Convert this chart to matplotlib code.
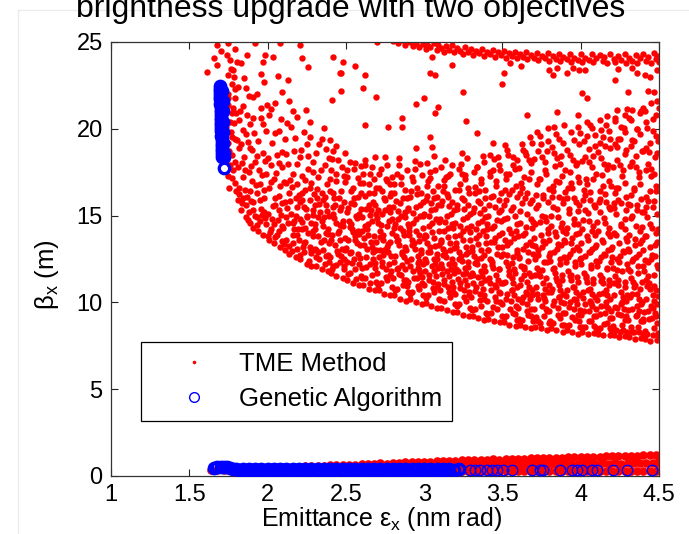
import numpy as np
import matplotlib
matplotlib.use('Agg')
import matplotlib.pyplot as plt
from matplotlib.lines import Line2D

plt.rcParams['font.family'] = ['Liberation Sans', 'DejaVu Sans']
plt.rcParams['mathtext.fontset'] = 'custom'
plt.rcParams['mathtext.rm'] = 'Liberation Sans'
plt.rcParams['mathtext.it'] = 'Liberation Sans:italic'

title = 'brightness upgrade with two objectives'
x_label = r'Emittance ε$_\mathregular{x}$ (nm rad)'
y_label = r'β$_\mathregular{x}$ (m)'
x_ticks = [1, 1.5, 2, 2.5, 3, 3.5, 4, 4.5]
x_tick_labels = ['1', '1.5', '2', '2.5', '3', '3.5', '4', '4.5']
y_ticks = [0, 5, 10, 15, 20, 25]
y_tick_labels = ['0', '5', '10', '15', '20', '25']
series_names = ['TME Method', 'Genetic Algorithm']

# ---- TME Method: left arm of the cloud (emittance, beta_x) ----
tme_arm = [(1.61,23.3),(1.675,24.83),(1.66,24.1),(1.68,23.7),(1.70,24.5),(1.749,24.92),(1.739,24.25),(1.76,23.96),(1.803,23.87),(1.781,23.39),
(1.745,23.1),(1.75,21.8),(1.76,20.4),(1.745,19.2),(1.77,18.5),(1.78,17.6),(1.79,16.9),(1.77,22.6),(1.765,19.8),(1.78,21.2),(1.79,18.1),(1.745,22.0),(1.785,23.0),(1.80,20.9),(1.79,19.4),(1.76,17.9),(1.80,16.4),(1.79,22.3),(1.755,18.7),(1.77,20.9),
(1.81,15.9),(1.83,15.3),(1.86,14.9),(1.89,14.6),(1.82,16.6),(1.84,17.2),(1.87,16.1),(1.81,17.8),(1.85,18.4),(1.88,17.5),(1.83,19.1),(1.86,19.7),(1.89,18.9),(1.82,20.5),(1.84,21.3),(1.87,20.8),(1.81,22.4),(1.85,22.9),(1.88,21.9),(1.83,23.8),(1.866,24.25),(1.86,15.6),(1.89,16.4),(1.84,16.0),(1.82,18.9),(1.88,15.2),
(1.91,14.3),(1.94,14.1),(1.97,13.9),(1.92,15.0),(1.95,14.7),(1.99,14.5),(1.91,15.8),(1.96,15.4),(1.93,16.3),(1.98,16.0),(1.90,17.0),(1.95,16.8),(1.99,17.4),(1.92,18.1),(1.97,18.6),(1.94,19.3),(1.99,19.9),(1.91,20.6),(1.96,21.2),(1.93,22.0),(1.98,22.7),(1.92,24.92),(1.983,24.25),(1.973,23.87),(1.95,15.9),(1.90,18.8),(1.97,20.3),(1.93,14.9),(1.98,15.2),
(2.01,13.6),(2.04,13.4),(2.08,13.2),(2.02,14.2),(2.06,13.9),(2.09,14.4),(2.00,15.1),(2.03,14.8),(2.07,15.3),(2.05,16.0),(2.09,15.7),(2.01,16.6),(2.04,17.1),(2.08,16.7),(2.02,17.9),(2.06,18.5),(2.09,17.8),(2.03,19.2),(2.07,19.9),(2.01,20.8),(2.05,21.5),(2.09,22.1),(2.036,24.15),(2.079,24.92),(2.04,14.5),(2.07,14.1),(2.00,18.3),(2.05,15.6),
(2.11,13.0),(2.14,12.8),(2.18,12.6),(2.12,13.6),(2.16,13.4),(2.19,13.9),(2.10,14.3),(2.13,14.6),(2.17,14.2),(2.15,15.1),(2.19,15.5),(2.11,15.8),(2.14,16.3),(2.18,16.0),(2.12,16.9),(2.16,17.4),(2.19,16.8),(2.13,18.0),(2.17,18.7),(2.11,19.4),(2.15,20.1),(2.19,20.7),(2.14,21.6),(2.18,15.0),(2.12,14.9),(2.16,13.9),(2.207,24.83),(2.218,24.06),(2.13,22.8),(2.17,14.7),
(1.745,17.3),(1.755,16.6),(1.77,19.55),(1.785,20.35),(1.75,21.35),(1.795,21.75),(1.765,23.45),(1.735,20.1),(1.775,17.15),(1.79,24.6),
(1.815,16.25),(1.835,18.05),(1.855,17.65),(1.875,19.25),(1.895,15.85),(1.825,21.05),(1.845,19.95),(1.865,22.35),(1.885,20.25),(1.805,19.35),(1.855,16.45),(1.875,14.75),(1.835,15.75),(1.895,17.85),
(1.905,15.35),(1.925,16.75),(1.945,17.65),(1.965,15.05),(1.985,18.15),(1.915,19.75),(1.935,18.45),(1.955,20.65),(1.975,16.45),(1.995,21.35),(1.935,14.45),(1.965,17.35),(1.985,14.85),(1.905,21.85),(1.955,23.15),
(2.015,14.05),(2.035,15.55),(2.055,17.45),(2.075,16.15),(2.095,18.65),(2.025,16.95),(2.045,19.75),(2.065,14.75),(2.085,20.55),(2.005,13.85),(2.045,13.75),(2.075,18.05),(2.095,13.55),(2.025,21.15),(2.065,23.05),(2.085,15.05),
(2.105,13.35),(2.125,15.45),(2.145,17.05),(2.165,14.55),(2.185,17.95),(2.115,18.55),(2.135,13.25),(2.155,16.65),(2.175,19.45),(2.195,14.25),(2.145,15.85),(2.105,16.95),(2.185,13.05),(2.165,21.05),(2.125,20.35),(2.155,12.95)]

# ---- TME Method: main body of the cloud ----
tme_core = [
(2.21,12.5),(2.25,12.2),(2.28,12.1),(2.23,12.9),(2.27,13.2),(2.20,13.6),(2.24,13.5),(2.29,13.8),(2.22,14.2),(2.26,14.0),(2.28,14.6),(2.21,14.8),(2.25,15.0),(2.23,15.5),(2.29,15.3),(2.27,15.9),(2.20,16.2),(2.24,16.5),(2.28,16.9),(2.22,17.3),(2.26,17.7),(2.21,18.4),(2.29,18.1),(2.25,19.1),(2.23,19.8),(2.27,20.4),(2.26,23.58),(2.24,14.3),(2.28,13.0),(2.22,15.9),
(2.31,12.1),(2.345,11.9),(2.385,11.8),(2.33,12.5),(2.37,12.7),(2.30,13.1),(2.355,13.0),(2.39,13.4),(2.32,13.8),(2.36,13.6),(2.385,14.2),(2.305,14.5),(2.345,14.7),(2.335,15.2),(2.395,15.0),(2.37,15.6),(2.315,16.0),(2.35,16.3),(2.38,16.8),(2.325,17.2),(2.365,17.9),(2.31,18.6),(2.395,18.3),(2.35,19.4),(2.375,14.0),(2.32,12.9),(2.36,14.9),(2.30,15.6),(2.39,12.3),
(2.405,11.7),(2.44,11.5),(2.48,11.4),(2.42,12.1),(2.465,12.3),(2.49,11.9),(2.40,12.6),(2.45,12.8),(2.43,13.3),(2.475,13.1),(2.495,13.7),(2.41,13.9),(2.455,14.1),(2.435,14.6),(2.48,14.4),(2.415,15.1),(2.46,15.3),(2.49,15.8),(2.425,16.0),(2.47,16.4),(2.44,17.0),(2.405,17.6),(2.485,17.3),(2.45,18.2),(2.42,18.7),(2.48,23.85),(2.47,23.2),(2.47,22.2),(2.41,21.66),(2.42,24.15),(2.46,23.2),(2.40,19.35),(2.44,19.0),(2.465,13.6),(2.43,15.6),(2.49,12.5),
(2.51,11.3),(2.545,11.1),(2.585,11.0),(2.525,11.7),(2.56,11.9),(2.595,11.5),(2.505,12.3),(2.55,12.5),(2.53,12.9),(2.575,12.8),(2.59,13.3),(2.515,13.6),(2.56,13.8),(2.54,14.2),(2.58,14.1),(2.52,14.7),(2.565,15.0),(2.595,15.4),(2.53,15.7),(2.575,16.1),(2.545,16.6),(2.51,17.2),(2.59,16.9),(2.555,17.7),(2.525,18.1),(2.56,23.6),(2.57,13.4),(2.505,15.2),(2.585,12.2),(2.535,14.5),(2.55,16.0),
(2.61,11.0),(2.645,10.8),(2.685,10.7),(2.625,11.4),(2.665,11.6),(2.695,11.2),(2.60,12.0),(2.655,12.2),(2.63,12.6),(2.675,12.5),(2.69,13.0),(2.615,13.3),(2.66,13.5),(2.64,13.9),(2.68,13.8),(2.62,14.4),(2.665,14.7),(2.695,15.1),(2.63,15.4),(2.675,15.8),(2.645,16.3),(2.61,16.9),(2.69,16.6),(2.655,17.4),(2.625,17.9),(2.62,23.1),(2.61,22.35),(2.69,21.85),(2.62,20.2),(2.67,13.2),(2.605,14.9),(2.685,12.0),(2.635,14.2),(2.65,15.6),(2.68,17.1),
(2.71,10.7),(2.745,10.5),(2.785,10.4),(2.725,11.1),(2.765,11.3),(2.795,10.9),(2.70,11.7),(2.755,11.9),(2.73,12.3),(2.775,12.2),(2.79,12.7),(2.715,13.0),(2.76,13.2),(2.74,13.6),(2.78,13.5),(2.72,14.1),(2.765,14.4),(2.795,14.8),(2.73,15.1),(2.775,15.5),(2.745,16.0),(2.71,16.6),(2.79,16.3),(2.755,17.1),(2.725,17.7),(2.77,20.1),(2.70,25.0),(2.77,12.9),(2.705,14.6),(2.785,11.6),(2.735,13.9),(2.75,15.3),(2.78,16.8),(2.76,17.9),
(2.81,10.4),(2.845,10.2),(2.885,10.1),(2.825,10.8),(2.865,11.0),(2.895,10.6),(2.80,11.4),(2.855,11.6),(2.83,12.0),(2.875,11.9),(2.89,12.4),(2.815,12.7),(2.86,12.9),(2.84,13.3),(2.88,13.2),(2.82,13.8),(2.865,14.1),(2.895,14.5),(2.83,14.8),(2.875,15.2),(2.845,15.7),(2.81,16.3),(2.89,16.0),(2.855,16.8),(2.825,17.4),(2.86,20.6),(2.86,20.1),(2.87,12.6),(2.805,14.3),(2.885,11.3),(2.835,13.6),(2.85,15.0),(2.88,16.5),(2.84,17.9),(2.80,15.5),
(2.91,10.2),(2.945,10.0),(2.985,9.9),(2.925,10.6),(2.965,10.8),(2.995,10.4),(2.90,11.2),(2.955,11.4),(2.93,11.8),(2.975,11.7),(2.99,12.2),(2.915,12.5),(2.96,12.7),(2.94,13.1),(2.98,13.0),(2.92,13.6),(2.965,13.9),(2.995,14.3),(2.93,14.6),(2.975,15.0),(2.945,15.5),(2.91,16.1),(2.99,15.8),(2.955,16.6),(2.925,17.2),(2.95,21.4),(2.95,18.9),(2.97,12.4),(2.905,14.1),(2.985,11.1),(2.935,13.4),(2.95,14.8),(2.98,16.3),(2.94,17.7),(2.90,15.3),(2.96,12.0),
(3.01,9.95),(3.045,9.8),(3.085,9.7),(3.025,10.4),(3.065,10.6),(3.095,10.2),(3.00,11.0),(3.055,11.2),(3.03,11.6),(3.075,11.5),(3.09,12.0),(3.015,12.3),(3.06,12.5),(3.04,12.9),(3.08,12.8),(3.02,13.4),(3.065,13.7),(3.095,14.1),(3.03,14.4),(3.075,14.8),(3.045,15.3),(3.01,15.9),(3.09,15.6),(3.055,16.4),(3.025,17.0),(3.00,21.75),(3.04,23.2),(3.07,23.1),(3.05,24.15),(3.09,21.25),(3.07,20.9),(3.04,19.5),(3.05,18.95),(3.07,12.2),(3.005,13.9),(3.085,10.9),(3.035,13.2),(3.05,14.6),(3.08,16.1),(3.04,17.5),(3.00,15.1),(3.06,11.8),(3.02,16.7),
(3.11,9.7),(3.145,9.55),(3.185,9.45),(3.125,10.1),(3.165,10.3),(3.195,9.9),(3.10,10.7),(3.155,10.9),(3.13,11.3),(3.175,11.2),(3.19,11.7),(3.115,12.0),(3.16,12.2),(3.14,12.6),(3.18,12.5),(3.12,13.1),(3.165,13.4),(3.195,13.8),(3.13,14.1),(3.175,14.5),(3.145,15.0),(3.11,15.6),(3.19,15.3),(3.155,16.1),(3.125,16.7),(3.18,23.7),(3.15,17.3),(3.11,17.8),(3.17,11.9),(3.105,13.6),(3.185,10.6),(3.135,12.9),(3.15,14.3),(3.18,15.8),(3.14,17.2),(3.10,14.8),(3.16,11.5),(3.12,16.4),
(3.21,9.45),(3.245,9.3),(3.285,9.2),(3.225,9.9),(3.265,10.1),(3.295,9.7),(3.20,10.5),(3.255,10.7),(3.23,11.1),(3.275,11.0),(3.29,11.5),(3.215,11.8),(3.26,12.0),(3.24,12.4),(3.28,12.3),(3.22,12.9),(3.265,13.2),(3.295,13.6),(3.23,13.9),(3.275,14.3),(3.245,14.8),(3.21,15.4),(3.29,15.1),(3.255,15.9),(3.225,16.5),(3.25,22.1),(3.27,20.45),(3.24,18.6),(3.26,17.1),(3.22,17.7),(3.28,16.6),(3.27,11.7),(3.205,13.4),(3.285,10.4),(3.235,12.7),(3.25,14.1),(3.28,15.6),(3.24,17.4),(3.20,14.6),(3.26,11.3),
(3.31,9.2),(3.345,9.1),(3.385,9.0),(3.325,9.6),(3.365,9.8),(3.395,9.4),(3.30,10.3),(3.355,10.5),(3.33,10.9),(3.375,10.8),(3.39,11.3),(3.315,11.6),(3.36,11.8),(3.34,12.2),(3.38,12.1),(3.32,12.7),(3.365,13.0),(3.395,13.4),(3.33,13.7),(3.375,14.1),(3.345,14.6),(3.31,15.2),(3.39,14.9),(3.355,15.7),(3.325,16.3),(3.34,19.75),(3.36,16.9),(3.32,17.5),(3.38,18.1),(3.37,11.5),(3.305,13.2),(3.385,10.2),(3.335,12.5),(3.35,13.9),(3.38,15.4),(3.34,17.8),(3.30,14.4),(3.36,11.1),(3.39,16.5),
(3.41,9.05),(3.445,8.9),(3.485,8.85),(3.425,9.4),(3.465,9.6),(3.495,9.2),(3.40,10.1),(3.455,10.3),(3.43,10.7),(3.475,10.6),(3.49,11.1),(3.415,11.4),(3.46,11.6),(3.44,12.0),(3.48,11.9),(3.42,12.5),(3.465,12.8),(3.495,13.2),(3.43,13.5),(3.475,13.9),(3.445,14.4),(3.41,15.0),(3.49,14.7),(3.455,15.5),(3.425,16.1),(3.44,19.2),(3.46,16.7),(3.42,17.3),(3.48,17.9),(3.47,18.4),(3.47,11.3),(3.405,13.0),(3.485,10.0),(3.435,12.3),(3.45,13.7),(3.48,15.2),(3.44,17.6),(3.40,14.2),(3.46,10.9),(3.49,16.3),(3.42,18.5),
(3.51,8.85),(3.545,8.7),(3.585,8.65),(3.525,9.2),(3.565,9.4),(3.595,9.0),(3.50,9.9),(3.555,10.1),(3.53,10.5),(3.575,10.4),(3.59,10.9),(3.515,11.2),(3.56,11.4),(3.54,11.8),(3.58,11.7),(3.52,12.3),(3.565,12.6),(3.595,13.0),(3.53,13.3),(3.575,13.7),(3.545,14.2),(3.51,14.8),(3.59,14.5),(3.555,15.3),(3.525,15.9),(3.50,22.6),(3.51,23.2),(3.55,23.8),(3.56,16.5),(3.52,17.1),(3.58,17.7),(3.57,18.4),(3.53,18.8),(3.57,11.1),(3.505,12.8),(3.585,9.8),(3.535,12.1),(3.55,13.5),(3.58,15.0),(3.54,17.4),(3.50,14.0),(3.56,10.7),(3.59,16.1),(3.515,16.5),
(3.61,8.7),(3.645,8.6),(3.685,8.5),(3.625,9.0),(3.665,9.3),(3.695,8.9),(3.60,9.7),(3.655,9.9),(3.63,10.3),(3.675,10.2),(3.69,10.7),(3.615,11.0),(3.66,11.2),(3.64,11.6),(3.68,11.5),(3.62,12.1),(3.665,12.4),(3.695,12.8),(3.63,13.1),(3.675,13.5),(3.645,14.0),(3.61,14.6),(3.69,14.3),(3.655,15.1),(3.625,15.7),(3.62,23.6),(3.66,20.8),(3.66,16.3),(3.62,16.9),(3.68,17.5),(3.67,18.2),(3.63,18.8),(3.69,19.2),(3.67,10.9),(3.605,12.6),(3.685,9.6),(3.635,11.9),(3.65,13.3),(3.68,14.8),(3.64,17.2),(3.60,13.8),(3.66,10.5),(3.69,15.9),(3.615,16.3),(3.65,18.5),
(3.71,8.6),(3.745,8.5),(3.785,8.4),(3.725,8.9),(3.765,9.2),(3.795,8.8),(3.70,9.6),(3.755,9.8),(3.73,10.2),(3.775,10.1),(3.79,10.6),(3.715,10.9),(3.76,11.1),(3.74,11.5),(3.78,11.4),(3.72,12.0),(3.765,12.3),(3.795,12.7),(3.73,13.0),(3.775,13.4),(3.745,13.9),(3.71,14.5),(3.79,14.2),(3.755,15.0),(3.725,15.6),(3.76,16.2),(3.72,16.8),(3.78,17.4),(3.77,18.1),(3.73,18.7),(3.79,19.3),(3.74,19.6),(3.77,10.8),(3.705,12.5),(3.785,9.5),(3.735,11.8),(3.75,13.2),(3.78,14.7),(3.74,17.1),(3.70,13.7),(3.76,10.4),(3.79,15.8),(3.715,16.2),(3.75,18.4),
(3.81,8.5),(3.845,8.4),(3.885,8.3),(3.825,8.8),(3.865,9.1),(3.895,8.7),(3.80,9.5),(3.855,9.7),(3.83,10.1),(3.875,10.0),(3.89,10.5),(3.815,10.8),(3.86,11.0),(3.84,11.4),(3.88,11.3),(3.82,11.9),(3.865,12.2),(3.895,12.6),(3.83,12.9),(3.875,13.3),(3.845,13.8),(3.81,14.4),(3.89,14.1),(3.855,14.9),(3.825,15.5),(3.80,23.4),(3.82,23.1),(3.85,23.5),(3.85,20.95),(3.83,20.1),(3.86,16.1),(3.82,16.7),(3.88,17.3),(3.87,18.0),(3.83,18.6),(3.89,19.2),(3.84,19.7),(3.87,10.7),(3.805,12.4),(3.885,9.4),(3.835,11.7),(3.85,13.1),(3.88,14.6),(3.84,17.0),(3.80,13.6),(3.86,10.3),(3.89,15.7),(3.815,16.1),(3.85,18.3),
(3.91,8.4),(3.945,8.3),(3.985,8.2),(3.925,8.7),(3.965,9.0),(3.995,8.6),(3.90,9.4),(3.955,9.6),(3.93,10.0),(3.975,9.9),(3.99,10.4),(3.915,10.7),(3.96,10.9),(3.94,11.3),(3.98,11.2),(3.92,11.8),(3.965,12.1),(3.995,12.5),(3.93,12.8),(3.975,13.2),(3.945,13.7),(3.91,14.3),(3.99,14.0),(3.955,14.8),(3.925,15.4),(3.91,23.2),(3.95,23.5),(3.99,23.4),(3.98,20.8),(3.98,20.1),(3.96,16.0),(3.92,16.6),(3.98,17.2),(3.97,17.9),(3.93,18.5),(3.99,19.1),(3.94,19.8),(3.97,10.6),(3.905,12.3),(3.985,9.3),(3.935,11.6),(3.95,13.0),(3.98,14.5),(3.94,16.9),(3.90,13.5),(3.96,10.2),(3.99,15.6),(3.915,16.0),(3.95,18.2),
(4.01,8.3),(4.045,8.2),(4.085,8.25),(4.025,8.6),(4.065,8.9),(4.095,8.5),(4.00,9.3),(4.055,9.5),(4.03,9.9),(4.075,9.8),(4.09,10.3),(4.015,10.6),(4.06,10.8),(4.04,11.2),(4.08,11.1),(4.02,11.7),(4.065,12.0),(4.095,12.4),(4.03,12.7),(4.075,13.1),(4.045,13.6),(4.01,14.2),(4.09,13.9),(4.055,14.7),(4.025,15.3),(4.03,23.4),(4.01,22.05),(4.04,21.8),(4.06,15.9),(4.02,16.5),(4.08,17.1),(4.07,17.8),(4.03,18.4),(4.09,19.0),(4.04,19.6),(4.06,20.2),(4.07,10.5),(4.005,12.2),(4.085,9.2),(4.035,11.5),(4.05,12.9),(4.08,14.4),(4.04,16.8),(4.00,13.4),(4.06,10.1),(4.09,15.5),(4.015,15.9),(4.05,18.1),(4.02,19.3),
(4.11,8.2),(4.145,8.1),(4.185,8.15),(4.125,8.5),(4.165,8.8),(4.195,8.4),(4.10,9.2),(4.155,9.4),(4.13,9.8),(4.175,9.7),(4.19,10.2),(4.115,10.5),(4.16,10.7),(4.14,11.1),(4.18,11.0),(4.12,11.6),(4.165,11.9),(4.195,12.3),(4.13,12.6),(4.175,13.0),(4.145,13.5),(4.11,14.1),(4.19,13.8),(4.155,14.6),(4.125,15.2),(4.16,15.8),(4.12,16.4),(4.18,17.0),(4.17,17.7),(4.13,18.3),(4.19,18.9),(4.14,19.5),(4.16,20.2),(4.12,20.5),(4.17,10.4),(4.105,12.1),(4.185,9.1),(4.135,11.4),(4.15,12.8),(4.18,14.3),(4.14,16.7),(4.10,13.3),(4.16,10.0),(4.19,15.4),(4.115,15.8),(4.15,18.0),(4.12,19.2),(4.18,19.9),
(4.21,8.1),(4.245,8.0),(4.285,8.05),(4.225,8.4),(4.265,8.7),(4.295,8.3),(4.20,9.1),(4.255,9.3),(4.23,9.7),(4.275,9.6),(4.29,10.1),(4.215,10.4),(4.26,10.6),(4.24,11.0),(4.28,10.9),(4.22,11.5),(4.265,11.8),(4.295,12.2),(4.23,12.5),(4.275,12.9),(4.245,13.4),(4.21,14.0),(4.29,13.7),(4.255,14.5),(4.225,15.1),(4.22,22.8),(4.24,23.45),(4.23,21.1),(4.26,15.7),(4.22,16.3),(4.28,16.9),(4.27,17.6),(4.23,18.2),(4.29,18.8),(4.24,19.4),(4.26,20.1),(4.22,20.6),(4.28,20.8),(4.27,10.3),(4.205,12.0),(4.285,9.0),(4.235,11.3),(4.25,12.7),(4.28,14.2),(4.24,16.6),(4.20,13.2),(4.26,9.9),(4.29,15.3),(4.215,15.7),(4.25,17.9),(4.22,19.1),(4.28,19.8),
(4.31,8.0),(4.345,7.9),(4.385,7.95),(4.325,8.3),(4.365,8.6),(4.395,8.2),(4.30,9.0),(4.355,9.2),(4.33,9.6),(4.375,9.5),(4.39,10.0),(4.315,10.3),(4.36,10.5),(4.34,10.9),(4.38,10.8),(4.32,11.4),(4.365,11.7),(4.395,12.1),(4.33,12.4),(4.375,12.8),(4.345,13.3),(4.31,13.9),(4.39,13.6),(4.355,14.4),(4.325,15.0),(4.33,23.5),(4.30,22.1),(4.36,23.2),(4.33,21.1),(4.36,15.6),(4.32,16.2),(4.38,16.8),(4.37,17.5),(4.33,18.1),(4.39,18.7),(4.34,19.3),(4.36,20.0),(4.32,20.5),(4.38,20.9),(4.37,10.2),(4.305,11.9),(4.385,8.9),(4.335,11.2),(4.35,12.6),(4.38,14.1),(4.34,16.5),(4.30,13.1),(4.36,9.8),(4.39,15.2),(4.315,15.6),(4.35,17.8),(4.32,19.0),(4.38,19.7),
(4.41,7.9),(4.445,7.8),(4.485,7.85),(4.425,8.2),(4.465,8.5),(4.495,8.1),(4.40,8.9),(4.455,9.1),(4.43,9.5),(4.475,9.4),(4.49,9.9),(4.415,10.2),(4.46,10.4),(4.44,10.8),(4.48,10.7),(4.42,11.3),(4.465,11.6),(4.495,12.0),(4.43,12.3),(4.475,12.7),(4.445,13.2),(4.41,13.8),(4.49,13.5),(4.455,14.3),(4.425,14.9),(4.41,23.1),(4.43,22.2),(4.44,23.0),(4.49,23.4),(4.47,22.1),(4.40,21.2),(4.45,21.5),(4.46,15.5),(4.42,16.1),(4.48,16.7),(4.47,17.4),(4.43,18.0),(4.49,18.6),(4.44,19.2),(4.46,19.9),(4.42,20.4),(4.48,20.8),(4.49,21.6),(4.47,10.1),(4.405,11.8),(4.485,8.8),(4.435,11.1),(4.45,12.5),(4.48,14.0),(4.44,16.4),(4.40,13.0),(4.46,9.7),(4.49,15.1),(4.415,15.5),(4.45,17.7),(4.42,18.9),(4.48,19.6)]

# ---- TME Method: further points filling the body of the cloud ----
tme_fill = [
(2.208,12.72),(2.262,12.38),(2.231,13.41),(2.287,14.12),(2.219,14.63),(2.248,15.37),(2.293,15.02),(2.204,15.81),(2.271,16.58),(2.236,17.04),(2.289,17.49),(2.212,18.77),(2.258,18.42),(2.243,21.1),(2.226,13.18),(2.279,12.84),(2.252,14.91),(2.297,16.22),(2.217,16.31),(2.268,19.55),
(2.311,12.61),(2.367,12.24),(2.342,13.47),(2.389,13.92),(2.303,14.21),(2.356,14.38),(2.327,15.64),(2.381,15.29),(2.318,16.52),(2.364,16.07),(2.396,17.11),(2.339,17.63),(2.307,13.02),(2.374,18.83),(2.329,19.12),(2.385,12.71),(2.351,15.91),(2.322,14.93),(2.399,16.41),(2.361,20.05),
(2.413,11.91),(2.468,12.66),(2.439,12.18),(2.492,13.02),(2.406,13.57),(2.451,13.98),(2.483,14.71),(2.427,14.89),(2.471,15.52),(2.418,16.33),(2.459,16.02),(2.497,16.91),(2.434,17.38),(2.476,17.82),(2.409,18.24),(2.446,12.97),(2.488,12.11),(2.421,15.47),(2.462,14.43),(2.493,18.61),
(2.514,11.62),(2.567,11.34),(2.538,12.27),(2.591,12.58),(2.503,13.11),(2.556,13.62),(2.582,13.94),(2.529,14.37),(2.571,14.86),(2.512,15.43),(2.549,15.67),(2.596,16.28),(2.533,16.42),(2.579,17.15),(2.508,17.61),(2.561,18.02),(2.524,12.86),(2.587,15.12),(2.546,14.08),(2.599,17.88),
(2.606,11.43),(2.652,11.12),(2.683,12.27),(2.628,12.04),(2.671,12.88),(2.617,13.72),(2.694,13.46),(2.641,14.51),(2.603,14.12),(2.662,15.32),(2.687,15.59),(2.623,16.14),(2.648,16.82),(2.679,16.33),(2.612,17.41),(2.667,17.79),(2.634,13.09),(2.698,14.88),(2.656,15.01),(2.621,18.22),(2.689,18.37),
(2.707,10.98),(2.756,11.46),(2.731,12.08),(2.788,11.83),(2.714,12.62),(2.767,13.37),(2.742,13.01),(2.796,14.02),(2.722,14.47),(2.773,14.68),(2.703,15.34),(2.751,15.88),(2.784,16.14),(2.728,16.39),(2.762,16.97),(2.709,17.42),(2.793,17.24),(2.737,12.71),(2.779,15.22),(2.747,18.36),(2.716,13.78),
(2.812,10.71),(2.869,11.27),(2.838,11.62),(2.891,10.92),(2.806,12.33),(2.857,12.14),(2.883,13.01),(2.824,13.52),(2.871,13.88),(2.815,14.52),(2.846,14.27),(2.898,15.41),(2.831,15.28),(2.864,16.02),(2.807,16.81),(2.852,17.22),(2.889,17.63),(2.826,11.93),(2.877,14.91),(2.842,18.31),(2.861,12.79),(2.818,15.86),
(2.909,10.49),(2.963,10.97),(2.937,11.38),(2.986,11.44),(2.912,12.11),(2.958,12.29),(2.981,12.87),(2.924,13.28),(2.969,13.55),(2.903,14.37),(2.948,14.12),(2.992,14.98),(2.931,15.16),(2.976,15.61),(2.917,16.42),(2.954,16.24),(2.987,17.31),(2.928,17.02),(2.966,11.88),(2.941,18.12),(2.998,13.72),(2.906,13.91),(2.973,17.95),
(3.012,10.27),(3.058,10.81),(3.033,11.27),(3.087,11.04),(3.006,11.82),(3.049,12.07),(3.082,12.51),(3.024,12.92),(3.068,13.27),(3.011,13.81),(3.053,14.03),(3.094,14.62),(3.029,14.98),(3.072,15.38),(3.016,16.12),(3.061,16.01),(3.089,16.72),(3.037,17.14),(3.071,17.61),(3.003,12.48),(3.046,15.72),(3.097,13.33),(3.021,18.02),(3.064,18.41),
(3.104,10.11),(3.157,10.58),(3.128,11.06),(3.183,10.87),(3.112,11.61),(3.148,11.83),(3.192,12.23),(3.121,12.71),(3.164,13.02),(3.107,13.48),(3.151,13.77),(3.186,14.31),(3.133,14.62),(3.172,15.09),(3.117,15.82),(3.159,15.57),(3.194,16.48),(3.126,17.04),(3.168,17.41),(3.109,12.19),(3.143,16.22),(3.188,13.11),(3.136,18.21),(3.177,17.92),
(3.207,9.82),(3.253,10.33),(3.228,10.84),(3.287,10.62),(3.214,11.37),(3.246,11.64),(3.283,12.02),(3.221,12.48),(3.267,12.77),(3.203,13.19),(3.249,13.57),(3.291,14.07),(3.232,14.41),(3.271,14.93),(3.211,15.62),(3.257,15.37),(3.288,16.28),(3.226,16.84),(3.262,17.33),(3.205,11.93),(3.242,16.02),(3.281,12.92),(3.234,17.97),(3.276,18.34),
(3.308,9.58),(3.354,10.12),(3.327,10.63),(3.384,10.41),(3.313,11.12),(3.347,11.44),(3.389,11.82),(3.322,12.27),(3.363,12.56),(3.304,12.98),(3.341,13.36),(3.392,13.84),(3.331,14.21),(3.372,14.71),(3.316,15.42),(3.358,15.14),(3.386,16.04),(3.324,16.63),(3.366,17.12),(3.306,11.71),(3.344,15.82),(3.381,12.71),(3.336,17.81),(3.374,18.43),(3.352,16.41),
(3.404,9.32),(3.461,10.08),(3.437,9.71),(3.486,10.53),(3.418,11.14),(3.452,11.02),(3.479,11.91),(3.426,12.43),(3.491,12.67),(3.409,13.04),(3.447,13.49),(3.472,13.18),(3.432,14.27),(3.468,14.76),(3.415,15.61),(3.493,15.33),(3.441,16.12),(3.458,16.98),(3.421,17.52),(3.483,17.64),(3.447,18.27),(3.401,14.53),(3.476,15.87),(3.434,12.18),
(3.512,9.17),(3.548,9.63),(3.583,9.34),(3.521,10.22),(3.563,10.71),(3.597,10.18),(3.506,11.13),(3.539,11.59),(3.577,11.92),(3.528,12.71),(3.561,12.27),(3.592,12.86),(3.514,13.62),(3.553,13.97),(3.586,14.14),(3.532,14.88),(3.569,15.47),(3.508,15.62),(3.544,16.27),(3.588,16.71),(3.523,17.38),(3.566,17.91),(3.537,18.47),(3.594,18.22),(3.518,19.04),
(3.603,9.03),(3.657,9.52),(3.681,9.21),(3.624,10.04),(3.648,10.62),(3.692,10.43),(3.617,11.33),(3.672,11.71),(3.636,12.04),(3.609,12.58),(3.663,12.93),(3.688,13.31),(3.629,13.87),(3.651,14.33),(3.694,14.62),(3.612,15.24),(3.677,15.71),(3.641,16.02),(3.622,16.58),(3.668,17.12),(3.605,17.74),(3.684,18.03),(3.646,18.64),(3.627,19.11),(3.673,19.52),
(3.714,9.16),(3.742,8.82),(3.781,9.61),(3.723,10.47),(3.768,10.28),(3.797,11.02),(3.706,11.56),(3.751,11.84),(3.785,12.33),(3.727,12.71),(3.762,13.56),(3.709,13.23),(3.792,14.01),(3.738,14.62),(3.773,14.91),(3.716,15.42),(3.758,16.03),(3.796,16.54),(3.731,17.12),(3.769,17.63),(3.703,18.24),(3.784,18.71),(3.746,19.12),(3.721,19.83),(3.788,20.04),
(3.807,8.93),(3.852,9.28),(3.879,8.71),(3.826,9.86),(3.864,10.33),(3.891,9.97),(3.813,10.62),(3.847,11.21),(3.882,11.57),(3.829,11.96),(3.869,12.52),(3.804,12.84),(3.857,13.37),(3.894,13.58),(3.836,14.06),(3.873,14.32),(3.811,14.97),(3.849,15.38),(3.887,15.97),(3.821,16.41),(3.862,16.92),(3.898,17.62),(3.834,17.83),(3.876,18.41),(3.816,18.97),(3.859,19.44),(3.892,20.23),
(3.913,8.62),(3.947,9.14),(3.986,8.91),(3.922,9.72),(3.968,10.16),(3.994,9.57),(3.906,10.37),(3.951,10.88),(3.978,11.46),(3.931,11.51),(3.962,12.35),(3.917,12.63),(3.989,13.04),(3.941,13.41),(3.973,13.96),(3.908,13.98),(3.955,14.52),(3.984,15.28),(3.926,15.13),(3.967,15.81),(3.902,16.36),(3.943,16.61),(3.991,16.92),(3.929,17.53),(3.975,18.01),(3.912,18.79),(3.958,19.36),(3.996,19.78),
(4.008,8.57),(4.052,8.94),(4.088,8.62),(4.023,9.51),(4.064,9.98),(4.097,9.61),(4.013,10.27),(4.046,10.71),(4.079,11.34),(4.031,11.41),(4.068,12.15),(4.004,12.56),(4.057,12.88),(4.093,13.21),(4.037,13.83),(4.071,14.11),(4.016,14.72),(4.049,15.13),(4.084,15.62),(4.027,16.18),(4.062,16.37),(4.098,17.41),(4.033,17.12),(4.076,18.42),(4.011,18.12),(4.054,18.83),(4.089,19.62),(4.042,20.41),(4.071,20.05),
(4.112,8.41),(4.149,8.76),(4.187,8.53),(4.124,9.33),(4.161,9.82),(4.194,9.51),(4.106,10.12),(4.143,10.53),(4.178,11.27),(4.131,11.24),(4.166,11.97),(4.117,12.38),(4.153,12.74),(4.192,13.07),(4.135,13.62),(4.172,13.97),(4.103,14.61),(4.147,14.88),(4.183,15.51),(4.121,15.97),(4.158,16.26),(4.196,16.71),(4.138,17.33),(4.174,17.94),(4.109,18.64),(4.152,19.02),(4.188,19.41),(4.127,19.92),(4.169,20.71),
(4.251,8.31),(4.206,8.62),(4.273,8.41),(4.289,9.22),(4.217,9.71),(4.238,9.36),(4.264,10.01),(4.297,10.44),(4.211,11.12),(4.282,11.18),(4.229,11.89),(4.247,12.31),(4.203,12.62),(4.268,12.97),(4.294,13.52),(4.223,13.86),(4.256,14.41),(4.281,14.83),(4.214,15.42),(4.241,15.88),(4.292,16.07),(4.227,16.58),(4.262,17.28),(4.207,17.81),(4.285,18.57),(4.233,18.97),(4.249,19.43),(4.276,20.02),(4.219,20.44),(4.297,21.12),
(4.371,8.27),(4.318,8.58),(4.342,8.32),(4.396,9.04),(4.305,9.55),(4.357,9.27),(4.383,9.91),(4.326,10.47),(4.349,11.01),(4.392,11.19),(4.313,11.78),(4.366,12.09),(4.335,12.52),(4.308,12.96),(4.379,13.42),(4.346,13.63),(4.394,14.32),(4.321,14.84),(4.361,15.31),(4.303,15.68),(4.387,15.96),(4.339,16.57),(4.372,17.21),(4.315,17.86),(4.355,18.46),(4.398,18.71),(4.328,19.37),(4.362,19.98),(4.309,20.61),(4.384,21.03),
(4.462,8.12),(4.413,8.36),(4.491,8.26),(4.437,9.03),(4.404,9.44),(4.478,9.19),(4.451,9.82),(4.496,10.39),(4.421,10.92),(4.466,10.97),(4.432,11.52),(4.487,12.13),(4.409,12.42),(4.456,12.71),(4.472,13.33),(4.418,13.81),(4.494,14.22),(4.444,14.51),(4.407,15.22),(4.468,15.83),(4.429,15.86),(4.483,16.41),(4.452,17.26),(4.415,17.63),(4.476,18.37),(4.438,18.64),(4.493,19.28),(4.426,20.04),(4.459,20.57),(4.497,21.21),(4.411,21.02)]

# ---- TME Method: thin upper band near beta_x = 24 ----
tme_top_band = [(2.80,25.05),(2.83,24.95),(2.86,25.1),(2.88,24.85),(2.91,25.0),(2.93,24.75),(2.95,24.95),(2.97,24.7),(2.99,24.9),(3.01,24.6),(3.02,24.85),(3.04,24.7),(3.06,24.95),(3.08,24.55),(3.09,24.8),(3.11,24.65),(3.13,24.45),(3.14,24.75),(3.16,24.55),(3.18,24.85),(3.19,24.4),(3.21,24.65),(3.23,24.5),(3.25,24.3),(3.26,24.7),(3.28,24.45),(3.30,24.6),(3.31,24.25),(3.33,24.5),(3.35,24.35),(3.37,24.6),(3.38,24.2),(3.40,24.45),(3.42,24.3),(3.44,24.55),(3.45,24.15),(3.47,24.4),(3.49,24.25),(3.51,24.5),(3.52,24.1),(3.54,24.35),(3.56,24.2),(3.58,24.45),(3.59,24.05),(3.61,24.3),(3.63,24.15),(3.65,24.4),(3.66,24.0),(3.68,24.25),(3.70,24.1),(3.72,24.35),(3.73,23.95),(3.75,24.2),(3.77,24.05),(3.79,24.35),(3.80,23.9),(3.82,24.2),(3.84,24.0),(3.86,24.3),(3.87,23.9),(3.89,24.15),(3.91,24.0),(3.93,24.3),(3.94,23.85),(3.96,24.1),(3.98,23.95),(4.00,24.3),(4.01,23.85),(4.03,24.1),(4.05,23.95),(4.07,24.3),(4.08,23.85),(4.10,24.05),(4.12,24.25),(4.14,23.9),(4.15,24.15),(4.17,23.8),(4.19,24.3),(4.21,24.0),(4.22,23.85),(4.24,24.2),(4.26,23.95),(4.28,24.3),(4.29,23.8),(4.31,24.1),(4.33,23.9),(4.35,24.25),(4.36,23.8),(4.38,24.05),(4.40,24.3),(4.42,23.9),(4.43,24.15),(4.45,23.8),(4.47,24.35),(4.48,24.0),(4.49,24.2),(4.50,23.85)]

# ---- TME Method: dense solutions along beta_x ~ 0 ----
tme_floor = [(1.64,0.32),(1.68,0.36),(1.72,0.33),(1.76,0.38),(1.80,0.40),(1.84,0.42),(1.88,0.41),(1.92,0.45),(1.96,0.47),(2.00,0.46),(2.04,0.50),(2.08,0.49),(2.12,0.52),(2.16,0.54),(2.20,0.53),(2.24,0.57),(2.28,0.56),(2.32,0.60),(2.36,0.59),(2.40,0.62),(2.44,0.64),(2.48,0.63),(2.52,0.66),(2.56,0.65),(2.60,0.69),(2.64,0.68),(2.68,0.71),(2.72,0.73),(2.76,0.72),(2.80,0.76),(2.84,0.75),(2.88,0.79),(2.92,0.78),(2.96,0.81),(3.00,0.83),(3.04,0.82),(3.08,0.86),(3.12,0.85),(3.16,0.88),(3.20,0.87),(3.24,0.90),(3.28,0.92),(3.32,0.91),(3.36,0.94),(3.40,0.93),(3.44,0.96),(3.48,0.95),(3.52,0.98),(3.56,0.97),(3.60,1.00),(3.64,0.99),(3.68,1.02),(3.72,1.01),(3.76,1.04),(3.80,1.03),(3.84,1.06),(3.88,1.05),(3.92,1.08),(3.96,1.07),(4.00,1.10),(4.04,1.09),(4.08,1.12),(4.12,1.11),(4.16,1.14),(4.20,1.13),(4.24,1.16),(4.28,1.15),(4.32,1.18),(4.36,1.17),(4.40,1.20),(4.44,1.19),(4.48,1.22),(4.50,1.18),
(3.20,0.30),(3.24,0.27),(3.28,0.31),(3.32,0.28),(3.36,0.30),(3.40,0.26),(3.44,0.31),(3.48,0.28),(3.52,0.30),(3.56,0.27),(3.60,0.31),(3.64,0.28),(3.68,0.30),(3.72,0.26),(3.76,0.31),(3.80,0.28),(3.84,0.30),(3.88,0.27),(3.92,0.31),(3.96,0.28),(4.00,0.30),(4.04,0.26),(4.08,0.31),(4.12,0.28),(4.16,0.30),(4.20,0.27),(4.24,0.31),(4.28,0.28),(4.32,0.30),(4.36,0.26),(4.40,0.31),(4.44,0.28),(4.48,0.30),
(3.22,0.60),(3.26,0.62),(3.30,0.59),(3.34,0.63),(3.38,0.61),(3.42,0.64),(3.46,0.62),(3.50,0.65),(3.54,0.63),(3.58,0.66),(3.62,0.64),(3.66,0.67),(3.70,0.65),(3.74,0.68),(3.78,0.66),(3.82,0.69),(3.86,0.67),(3.90,0.70),(3.94,0.68),(3.98,0.71),(4.02,0.69),(4.06,0.72),(4.10,0.70),(4.14,0.73),(4.18,0.71),(4.22,0.74),(4.26,0.72),(4.30,0.75),(4.34,0.73),(4.38,0.76),(4.42,0.74),(4.46,0.77),(4.49,0.75)]

# ---- Genetic Algorithm: vertical column near emittance 1.7 ----
ga_column = [(1.697,22.45),(1.696,22.3),(1.698,22.15),(1.697,22.0),(1.699,21.85),(1.698,21.7),(1.700,21.55),(1.699,21.4),(1.701,21.25),(1.700,21.1),(1.702,20.95),(1.701,20.8),(1.703,20.65),(1.702,20.5),(1.704,20.35),(1.703,20.2),(1.705,20.05),(1.704,19.9),(1.706,19.75),(1.705,19.6),(1.707,19.45),(1.706,19.3),(1.708,19.15),(1.707,19.0),(1.709,18.85),(1.709,18.7),(1.711,18.55),(1.712,18.4),(1.722,17.72),
(1.712,22.2),(1.714,21.6),(1.713,21.0),(1.716,20.4),(1.715,19.8),(1.718,19.2),(1.719,18.6),(1.720,18.35)]

# ---- Genetic Algorithm: dense solutions along beta_x ~ 0 ----
ga_floor = [(1.66,0.44),(1.68,0.50),(1.70,0.53),(1.72,0.52),(1.74,0.50),(1.76,0.47),(1.78,0.42),(1.80,0.39),(1.82,0.37),(1.84,0.38),(1.86,0.36),(1.88,0.38),(1.90,0.37),(1.92,0.38),(1.94,0.36),(1.96,0.38),(1.98,0.37),(2.00,0.38),(2.02,0.36),(2.04,0.38),(2.06,0.37),(2.08,0.38),(2.10,0.36),(2.12,0.38),(2.14,0.37),(2.16,0.38),(2.18,0.36),(2.20,0.38),(2.22,0.37),(2.24,0.38),(2.26,0.36),(2.28,0.38),(2.30,0.37),(2.32,0.38),(2.34,0.36),(2.36,0.38),(2.38,0.37),(2.40,0.38),(2.42,0.36),(2.44,0.38),(2.46,0.37),(2.48,0.38),(2.50,0.36),(2.52,0.38),(2.54,0.37),(2.56,0.38),(2.58,0.36),(2.60,0.38),(2.62,0.37),(2.64,0.38),(2.66,0.36),(2.68,0.38),(2.70,0.37),(2.72,0.38),(2.74,0.36),(2.76,0.38),(2.78,0.37),(2.80,0.38),(2.82,0.36),(2.84,0.38),(2.86,0.37),(2.88,0.38),(2.90,0.36),(2.92,0.38),(2.94,0.37),(2.96,0.38),(2.98,0.36),(3.00,0.38),(3.02,0.37),(3.04,0.38),(3.06,0.36),(3.08,0.38),(3.10,0.37),(3.12,0.38),(3.14,0.36),(3.16,0.38),(3.19,0.37),(3.22,0.38)]

# ---- Genetic Algorithm: isolated solutions at larger emittance ----
ga_tail = [(3.293,0.36),(3.324,0.36),(3.356,0.36),(3.399,0.36),(3.431,0.36),(3.463,0.36),(3.505,0.36),(3.559,0.36),(3.687,0.36),(3.739,0.36),(3.761,0.36),(3.867,0.36),(3.942,0.36),(3.974,0.36),(4.006,0.36),(4.070,0.36),(4.102,0.36),(4.208,0.36),(4.293,0.36),(4.453,0.36)]

RED = '#ff0000'
BLUE = '#0000ff'

fig = plt.figure(figsize=(6.89, 5.34), dpi=100)
fig.patch.set_facecolor('white')

# faint outer frame of the original figure window
fig.add_artist(Line2D([18/689, 18/689], [0, 1 - 10/534], color='#ebebeb', lw=1.0, transform=fig.transFigure))
fig.add_artist(Line2D([18/689, 1], [1 - 10/534, 1 - 10/534], color='#ebebeb', lw=1.0, transform=fig.transFigure))

ax = fig.add_axes([111/689, 58/534, 548/689, 434/534])

def xy(pts):
    a = np.array(pts, dtype=float)
    return a[:, 0], a[:, 1]

for pts in (tme_arm, tme_core, tme_fill, tme_top_band):
    x, y = xy(pts)
    ax.plot(x, y, ls='none', marker='o', ms=4.6, color=RED, mec='none', zorder=2)
x, y = xy(tme_floor)
ax.plot(x, y, ls='none', marker='o', ms=6.2, color=RED, mec='none', zorder=2)

x, y = xy(ga_column)
ax.plot(x, y, ls='none', marker='o', ms=7.5, mfc='none', mec=BLUE, mew=2.4, zorder=3)
x, y = xy(ga_floor)
ax.plot(x, y, ls='none', marker='o', ms=7.5, mfc='none', mec=BLUE, mew=2.4, zorder=3)
x, y = xy(ga_tail)
ax.plot(x, y, ls='none', marker='o', ms=7.5, mfc='none', mec=BLUE, mew=1.0, zorder=3)

ax.set_xlim(1, 4.5)
ax.set_ylim(0, 25)
ax.set_xticks(x_ticks)
ax.set_xticklabels(x_tick_labels)
ax.set_yticks(y_ticks)
ax.set_yticklabels(y_tick_labels)
ax.tick_params(direction='in', top=True, right=True, length=5, width=0.8,
               labelsize=17, pad=6, colors='#222222', labelcolor='black')
for s in ax.spines.values():
    s.set_color('#333333')
    s.set_linewidth(0.9)

handles = [Line2D([], [], ls='none', marker='o', ms=2.6, color=RED, mec='none'),
           Line2D([], [], ls='none', marker='o', ms=7, mfc='none', mec=BLUE, mew=1.0)]
leg = ax.legend(handles, series_names, loc='lower left', bbox_to_anchor=(0.0547, 0.1267),
                fontsize=18.5, frameon=True, fancybox=False, edgecolor='black',
                borderpad=0.4, handletextpad=0.1, labelspacing=0.4, borderaxespad=0,
                handlelength=3.3, framealpha=1)
leg.get_frame().set_linewidth(0.9)

fig.text(351/689, 1 - 17.5/534, title, ha='center', va='baseline', fontsize=23)
fig.text(381/689, 1 - 526/534, x_label, ha='center', va='baseline', fontsize=18)
fig.text(47/689, 259/534, y_label, ha='center', va='center', rotation=90, fontsize=18.5)

fig.savefig('out.png', dpi=100, facecolor='white')
